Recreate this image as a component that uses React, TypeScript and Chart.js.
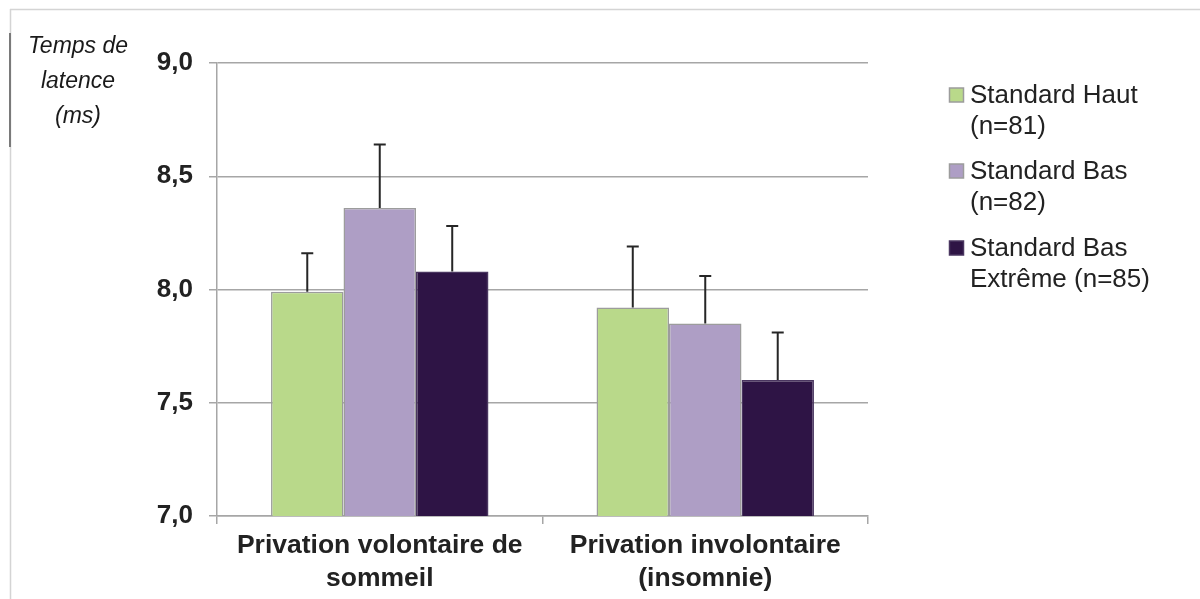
import React, { useEffect, useRef } from "react";
import { Chart, registerables } from "chart.js";

Chart.register(...registerables);

const categories: string[][] = [
  ["Privation volontaire de", "sommeil"],
  ["Privation involontaire", "(insomnie)"],
];
const seriesNames: string[][] = [
  ["Standard Haut", "(n=81)"],
  ["Standard Bas", "(n=82)"],
  ["Standard Bas", "Extrême (n=85)"],
];
const standardHaut = [7.99, 7.92];
const standardBas = [8.36, 7.85];
const standardBasExtreme = [8.08, 7.6];
const errHaut = [0.17, 0.27];
const errBas = [0.28, 0.21];
const errExtreme = [0.2, 0.21];
const yTicks = [7.0, 7.5, 8.0, 8.5, 9.0];
const yTitle = ["Temps de", "latence", "(ms)"];

const FONT = "'Liberation Sans', Arial, sans-serif";
const colors = ["#b9d98a", "#ae9ec5", "#2e1445"];
const borders = ["#9c9c9c", "#9c9c9c", "#4a3660"];
const errors = [errHaut, errBas, errExtreme];

const framePlugin = {
  id: "frame",
  beforeDraw(chart: any) {
    const ctx = chart.ctx;
    ctx.save();
    ctx.fillStyle = "#ffffff";
    ctx.fillRect(0, 0, chart.width, chart.height);
    ctx.strokeStyle = "#d4d4d4";
    ctx.lineWidth = 1.5;
    ctx.beginPath();
    ctx.moveTo(10, 9.5);
    ctx.lineTo(chart.width, 9.5);
    ctx.moveTo(10.5, 9);
    ctx.lineTo(10.5, chart.height);
    ctx.stroke();
    ctx.strokeStyle = "#7a7a7a";
    ctx.lineWidth = 2;
    ctx.beginPath();
    ctx.moveTo(10, 33);
    ctx.lineTo(10, 147);
    ctx.stroke();
    // axis title
    ctx.fillStyle = "#1a1a1a";
    ctx.font = `italic 23px ${FONT}`;
    ctx.textAlign = "center";
    ctx.textBaseline = "middle";
    yTitle.forEach((t, i) => ctx.fillText(t, 78, 47 + i * 35));
    ctx.restore();
  },
};

const errorPlugin = {
  id: "errbars",
  afterDatasetsDraw(chart: any) {
    const ctx = chart.ctx;
    const yScale = chart.scales.y;
    ctx.save();
    ctx.strokeStyle = "#262626";
    ctx.lineWidth = 2;
    chart.data.datasets.forEach((ds: any, di: number) => {
      const meta = chart.getDatasetMeta(di);
      meta.data.forEach((el: any, i: number) => {
        const v = ds.data[i];
        const top = yScale.getPixelForValue(v + errors[di][i]);
        ctx.beginPath();
        ctx.moveTo(el.x, el.y);
        ctx.lineTo(el.x, top);
        ctx.moveTo(el.x - 6, top);
        ctx.lineTo(el.x + 6, top);
        ctx.stroke();
      });
    });
    ctx.restore();
  },
};

const legendPlugin = {
  id: "customLegend",
  afterDraw(chart: any) {
    const ctx = chart.ctx;
    ctx.save();
    const starts = [95, 171, 248];
    ctx.font = `26px ${FONT}`;
    ctx.textAlign = "left";
    ctx.textBaseline = "middle";
    seriesNames.forEach((lines, i) => {
      const y = starts[i];
      ctx.fillStyle = colors[i];
      ctx.fillRect(949.5, y - 7, 14, 14);
      ctx.strokeStyle = borders[i];
      ctx.lineWidth = 1.5;
      ctx.strokeRect(949.5, y - 7, 14, 14);
      ctx.fillStyle = "#222222";
      lines.forEach((t, j) => ctx.fillText(t, 970, y + 1 + j * 30.5));
    });
    ctx.restore();
  },
};

export default function App() {
  const ref = useRef<HTMLCanvasElement>(null);
  useEffect(() => {
    if (!ref.current) return;
    const chart = new Chart(ref.current, {
      type: "bar",
      data: {
        labels: categories,
        datasets: [standardHaut, standardBas, standardBasExtreme].map((d, i) => ({
          label: seriesNames[i].join(" "),
          data: d,
          backgroundColor: colors[i],
          borderColor: borders[i],
          borderWidth: 1.5,
          categoryPercentage: 0.668,
          barPercentage: 1,
        })),
      },
      options: {
        responsive: false,
        animation: false,
        layout: { padding: { left: 0, right: 332, top: 63, bottom: 0 } },
        plugins: {
          legend: { display: false },
          tooltip: { enabled: false },
          title: { display: false },
        },
        scales: {
          x: {
            grid: {
              display: true,
              drawOnChartArea: false,
              tickLength: 8,
              color: "#a6a6a6",
              lineWidth: 1.5,
              offset: true,
            },
            border: { display: true, color: "#a6a6a6", width: 1.5 },
            ticks: {
              color: "#222222",
              font: { family: FONT, size: 26.5, weight: "bold", lineHeight: 1.25 },
              maxRotation: 0,
              padding: 5,
            },
            afterFit: (s: any) => {
              s.height = 83;
            },
          },
          y: {
            min: 7,
            max: 9,
            afterBuildTicks: (s: any) => {
              s.ticks = yTicks.map((v) => ({ value: v }));
            },
            grid: { color: "#a6a6a6", lineWidth: 1.5, tickLength: 8 },
            border: { display: true, color: "#a6a6a6", width: 1.5 },
            ticks: {
              color: "#222222",
              font: { family: FONT, size: 26, weight: "bold" },
              padding: 16,
              callback: (v: any) => Number(v).toFixed(1).replace(".", ","),
            },
            afterFit: (s: any) => {
              s.width = 217;
            },
          },
        },
      },
      plugins: [framePlugin, errorPlugin, legendPlugin],
    });
    return () => chart.destroy();
  }, []);
  return (
    <canvas
      ref={ref}
      width={1200}
      height={599}
      style={{ position: "fixed", left: 0, top: 0, display: "block" }}
    />
  );
}
